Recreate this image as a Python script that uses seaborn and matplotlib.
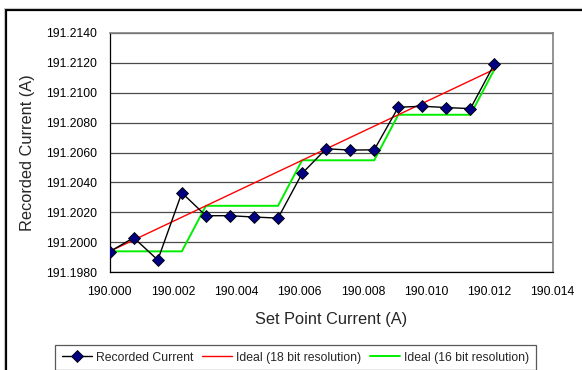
import matplotlib
matplotlib.use("Agg")
import matplotlib.pyplot as plt
from matplotlib.patches import Rectangle
import seaborn as sns
import pandas as pd

# Set point currents (A)
set_point = [190.00000, 190.00076, 190.00152, 190.00228, 190.00304, 190.00380,
             190.00456, 190.00532, 190.00608, 190.00684, 190.00760, 190.00836,
             190.00912, 190.00988, 190.01064, 190.01140, 190.01216]
# Measured output current (A)
recorded = [191.19938, 191.20031, 191.19882, 191.20331, 191.20178, 191.20178,
            191.20169, 191.20162, 191.20460, 191.20625, 191.20616, 191.20618,
            191.20902, 191.20909, 191.20900, 191.20893, 191.21193]
# Ideal response with 18 bit resolution
ideal_18 = [191.19940, 191.20016, 191.20092, 191.20168, 191.20244, 191.20320,
            191.20396, 191.20472, 191.20548, 191.20624, 191.20700, 191.20776,
            191.20852, 191.20928, 191.21004, 191.21080, 191.21156]
# Ideal response with 16 bit resolution (steps of four 18 bit counts)
ideal_16 = [191.19940, 191.19940, 191.19940, 191.19940, 191.20244, 191.20244,
            191.20244, 191.20244, 191.20548, 191.20548, 191.20548, 191.20548,
            191.20852, 191.20852, 191.20852, 191.20852, 191.21156]

x_ticks = [190.000, 190.002, 190.004, 190.006, 190.008, 190.010, 190.012, 190.014]
x_tick_labels = ["190.000", "190.002", "190.004", "190.006", "190.008",
                 "190.010", "190.012", "190.014"]
y_ticks = [191.198, 191.200, 191.202, 191.204, 191.206, 191.208, 191.210,
           191.212, 191.214]
y_tick_labels = ["191.1980", "191.2000", "191.2020", "191.2040", "191.2060",
                 "191.2080", "191.2100", "191.2120", "191.2140"]

df = pd.DataFrame({"set_point": set_point, "recorded": recorded,
                   "ideal_18": ideal_18, "ideal_16": ideal_16})

sns.set_style("white")
plt.rcParams["font.family"] = ["Liberation Sans", "DejaVu Sans"]

W, H = 582, 370
fig = plt.figure(figsize=(W / 100, H / 100), dpi=100)
fig.patch.set_facecolor("white")

# Chart-area frame (extends past the right and bottom edges)
fig.add_artist(Rectangle((5.5 / W, -0.2), 2.0, 1.2 - 9.5 / H,
                         transform=fig.transFigure, fill=False,
                         edgecolor="black", linewidth=1.6, clip_on=False))
fig.add_artist(Rectangle((4 / W, -0.2), 2.0, 1.2 - 8 / H,
                         transform=fig.transFigure, fill=False,
                         edgecolor="#c8c8c8", linewidth=0.8, clip_on=False))

left, right = 109.7 / W, 552.7 / W
top, bottom = 1 - 32.7 / H, 1 - 272.3 / H
ax = fig.add_axes([left, bottom, right - left, top - bottom])

sns.lineplot(data=df, x="set_point", y="recorded", ax=ax, color="black",
             linewidth=1.0, marker="D", markersize=5.8,
             markerfacecolor="#000080", markeredgecolor="black",
             markeredgewidth=0.6, label="Recorded Current", zorder=4)
sns.lineplot(data=df, x="set_point", y="ideal_18", ax=ax, color="#ff0000",
             linewidth=1.0, label="Ideal (18 bit resolution)", zorder=3)
sns.lineplot(data=df, x="set_point", y="ideal_16", ax=ax, color="#00ee00",
             linewidth=1.4, label="Ideal (16 bit resolution)", zorder=2)

ax.set_xlim(190.000, 190.014)
ax.set_ylim(191.198, 191.214)
ax.set_xticks(x_ticks)
ax.set_xticklabels(x_tick_labels)
ax.set_yticks(y_ticks)
ax.set_yticklabels(y_tick_labels)
ax.tick_params(axis="both", labelsize=8.8, length=4, width=0.8,
               direction="out", colors="black", pad=5)
ax.tick_params(axis="x", pad=6)
ax.grid(axis="y", color="#4a4a4a", linewidth=0.9)
ax.grid(axis="x", visible=False)
ax.set_axisbelow(True)

for side in ("left", "bottom"):
    ax.spines[side].set_color("black")
    ax.spines[side].set_linewidth(0.9)
for side in ("top", "right"):
    ax.spines[side].set_color("#808080")
    ax.spines[side].set_linewidth(1.2)

ax.set_xlabel("Set Point Current (A)", fontsize=11.8, labelpad=10)
ax.set_ylabel("Recorded Current (A)", fontsize=11.8, labelpad=8)

ax.legend_.remove()
handles, labels = ax.get_legend_handles_labels()
leg = fig.legend(handles, labels, ncol=3, loc="upper left",
                 bbox_to_anchor=(55 / W, 1 - 345 / H),
                 bbox_transform=fig.transFigure, fontsize=8.8,
                 frameon=True, fancybox=False, borderpad=0.55,
                 handlelength=2.45, handletextpad=0.35, columnspacing=0.7,
                 borderaxespad=0)
leg.get_frame().set_edgecolor("#303030")
leg.get_frame().set_linewidth(0.9)

fig.savefig("out.png", dpi=100, facecolor="white")
